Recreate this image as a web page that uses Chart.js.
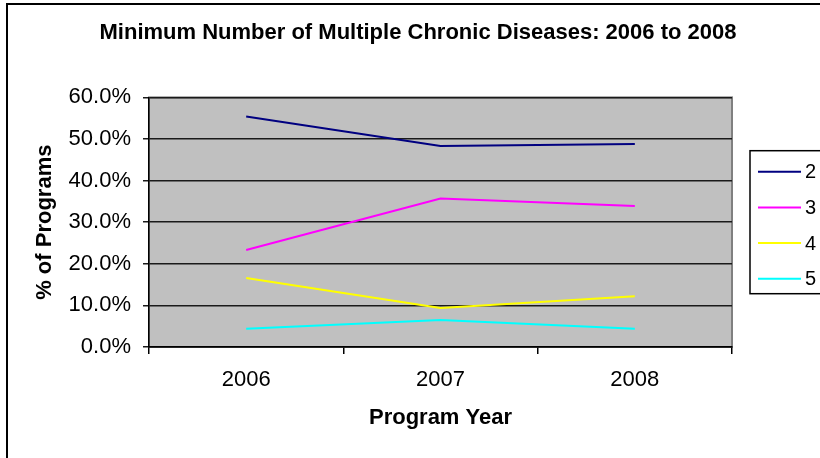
<!DOCTYPE html>
<html>
<head>
<meta charset="utf-8">
<title>Minimum Number of Multiple Chronic Diseases: 2006 to 2008</title>
<script src="https://cdn.jsdelivr.net/npm/chart.js@4/dist/chart.umd.min.js"></script>
<style>
  html, body { margin: 0; padding: 0; background: #ffffff; }
  #wrap { width: 820px; height: 458px; position: relative; }
</style>
</head>
<body>
<div id="wrap"><canvas id="chart"></canvas></div>
<script>
// Program years on the category axis
const years = ['2006', '2007', '2008'];

// Share of programs (%) by minimum number of chronic diseases required
const seriesNames = ['2', '3', '4', '5'];
const minTwo   = [55.4, 48.3, 48.8];
const minThree = [23.3, 35.7, 33.9];
const minFour  = [16.6, 9.4, 12.2];
const minFive  = [4.4, 6.5, 4.4];

// Value axis ticks (percent)
const yTicks = [0, 10, 20, 30, 40, 50, 60];

const lineColors = ['#000080', '#FF00FF', '#FFFF00', '#00FFFF'];
const FONT = "'Liberation Sans', Arial, Helvetica, sans-serif";

const seriesValues = [minTwo, minThree, minFour, minFive];
const datasets = seriesNames.map((name, i) => ({
  label: name,
  data: seriesValues[i],
  borderColor: lineColors[i],
  backgroundColor: lineColors[i],
  borderWidth: 2,
  pointRadius: 0,
  pointHoverRadius: 0,
  tension: 0,
  fill: false
}));

// White page with the frame lines and the grey plot area
const backdrop = {
  id: 'backdrop',
  beforeDraw(chart) {
    const { ctx, chartArea: a, width, height } = chart;
    ctx.save();
    ctx.fillStyle = '#ffffff';
    ctx.fillRect(0, 0, width, height);
    ctx.strokeStyle = '#000000';
    ctx.lineWidth = 2;
    ctx.beginPath();
    ctx.moveTo(7, height);
    ctx.lineTo(7, 4);
    ctx.lineTo(width, 4);
    ctx.stroke();
    ctx.fillStyle = '#C0C0C0';
    ctx.fillRect(a.left, a.top, a.right - a.left, a.bottom - a.top);
    ctx.strokeStyle = '#808080';
    ctx.lineWidth = 2;
    ctx.strokeRect(a.left, a.top, a.right - a.left, a.bottom - a.top);
    ctx.restore();
  }
};

// Boxed legend to the right of the plot, one line sample per series
const boxedLegend = {
  id: 'boxedLegend',
  afterDraw(chart) {
    const { ctx, chartArea: a } = chart;
    const sets = chart.data.datasets;
    const rowGap = 35.7;
    const boxH = 143;
    const boxX = a.right + 18;
    const boxY = (a.top + a.bottom) / 2 - boxH / 2;
    ctx.save();
    ctx.strokeStyle = '#000000';
    ctx.lineWidth = 1.5;
    ctx.strokeRect(boxX, boxY, 120, boxH);
    ctx.font = '20px ' + FONT;
    ctx.textBaseline = 'middle';
    ctx.textAlign = 'left';
    sets.forEach((ds, i) => {
      const y = boxY + 21 + i * rowGap;
      ctx.strokeStyle = ds.borderColor;
      ctx.lineWidth = 2;
      ctx.beginPath();
      ctx.moveTo(boxX + 8, y);
      ctx.lineTo(boxX + 51, y);
      ctx.stroke();
      ctx.fillStyle = '#000000';
      ctx.fillText(ds.label, boxX + 55, y + 1);
    });
    ctx.restore();
  }
};

new Chart(document.getElementById('chart'), {
  type: 'line',
  data: { labels: years, datasets },
  plugins: [backdrop, boxedLegend],
  options: {
    responsive: true,
    maintainAspectRatio: false,
    animation: false,
    events: [],
    layout: { padding: { left: 16, right: 0, top: 0, bottom: 0 } },
    plugins: {
      legend: { display: false },
      tooltip: { enabled: false },
      title: {
        display: true,
        text: 'Minimum Number of Multiple Chronic Diseases: 2006 to 2008',
        color: '#000000',
        font: { family: FONT, size: 22, weight: 'bold' },
        padding: { top: 20, bottom: 51 }
      }
    },
    scales: {
      x: {
        type: 'category',
        offset: true,
        grid: {
          display: true,
          offset: true,
          drawOnChartArea: false,
          drawTicks: true,
          tickLength: 7,
          color: '#000000',
          lineWidth: 1.5
        },
        border: { display: true, color: '#000000', width: 1.5 },
        ticks: {
          color: '#000000',
          font: { family: FONT, size: 22 },
          padding: 13,
          maxRotation: 0
        },
        title: {
          display: true,
          text: 'Program Year',
          color: '#000000',
          font: { family: FONT, size: 22, weight: 'bold' },
          padding: { top: 0, bottom: 27 }
        },
        afterFit(scale) { scale.height = 111; }
      },
      y: {
        type: 'linear',
        min: 0,
        max: 60,
        afterBuildTicks(scale) { scale.ticks = yTicks.map(v => ({ value: v })); },
        grid: {
          display: true,
          drawTicks: true,
          tickLength: 6,
          color: '#1a1a1a',
          lineWidth: 1.5
        },
        border: { display: true, color: '#000000', width: 1.5 },
        ticks: {
          color: '#000000',
          font: { family: FONT, size: 22 },
          padding: 12,
          callback: v => Number(v).toFixed(1) + '%'
        },
        title: {
          display: true,
          text: '% of Programs',
          color: '#000000',
          font: { family: FONT, size: 22, weight: 'bold' },
          padding: { top: 16, bottom: 0 }
        },
        afterFit(scale) { scale.width = 133; }
      },
      legendSpace: {
        type: 'linear',
        position: 'right',
        display: true,
        grid: { display: false },
        border: { display: false },
        ticks: { display: false },
        afterFit(scale) { scale.width = 88; }
      }
    }
  }
});
</script>
</body>
</html>
